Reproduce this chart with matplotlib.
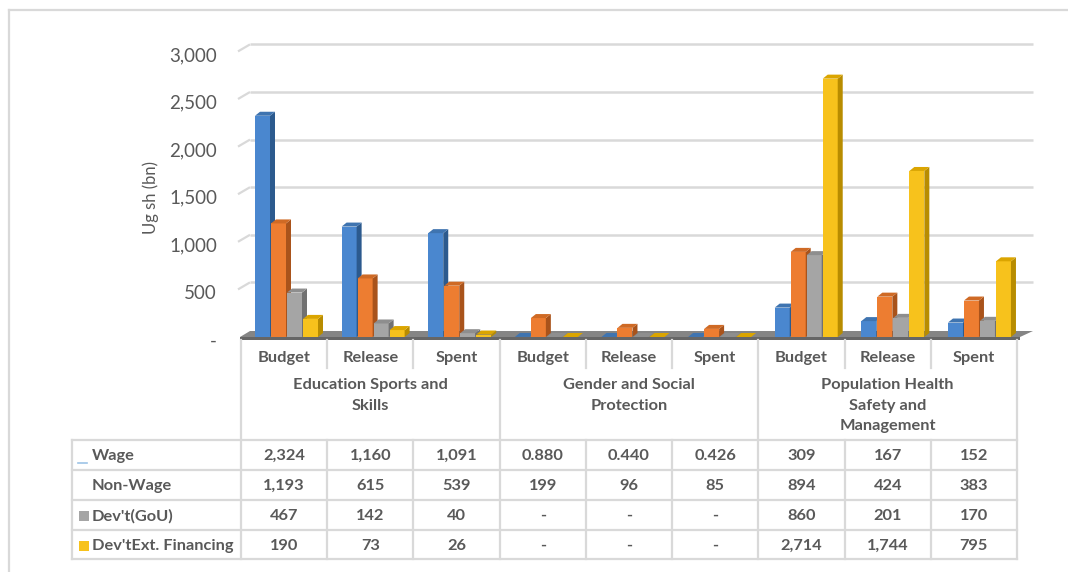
import numpy as np
import matplotlib
matplotlib.use("Agg")
import matplotlib.pyplot as plt
import matplotlib.transforms as mtransforms
from matplotlib.patches import Polygon, Rectangle

# ---- data ---------------------------------------------------------------
groups = ["Education Sports and\nSkills",
          "Gender and Social\nProtection",
          "Population Health\nSafety and\nManagement"]
stages = ["Budget", "Release", "Spent"]
series_names = ["Wage", "Non-Wage", "Dev't(GoU)", "Dev'tExt. Financing"]

wage = [2324, 1160, 1091, 0.880, 0.440, 0.426, 309, 167, 152]
non_wage = [1193, 615, 539, 199, 96, 85, 894, 424, 383]
dev_gou = [467, 142, 40, 0, 0, 0, 860, 201, 170]
dev_ext = [190, 73, 26, 0, 0, 0, 2714, 1744, 795]

y_ticks = [0, 500, 1000, 1500, 2000, 2500, 3000]

# ---- styling ------------------------------------------------------------
front_cols = ["#4a87cf", "#ed7d31", "#a5a5a5", "#f7c21c"]
side_cols = ["#2c5a8e", "#a9531b", "#717171", "#b88c00"]
top_cols = ["#3f74b0", "#cf6a25", "#8e8e8e", "#dba500"]
grid_col = "#d9d9d9"
text_col = "#595959"
FONT = "Lato"

W, H = 1068, 572
fig = plt.figure(figsize=(W / 100, H / 100), dpi=100)

x0_px, col_px = 241.0, 86.22      # left edge of the first column, column width
zero_px = 337.0                   # baseline of the front plane
sy = 0.0952                       # pixels per value unit
ax = fig.add_axes([x0_px / W, (H - zero_px) / H, 9 * col_px / W, 3000 * sy / H])
ax.set_xlim(0, 9)
ax.set_ylim(0, 3000)
ax.axis("off")

def dxp(px):
    return px / col_px

def dyp(px):
    return px / sy

def fy(ypx):
    return (H - ypx) / H

# ---- outer chart border -------------------------------------------------
fig.add_artist(plt.Line2D([9 / W, 9 / W], [fy(10), 0], color=grid_col, lw=1.6))
fig.add_artist(plt.Line2D([9 / W, 1], [fy(10), fy(10)], color=grid_col, lw=1.6))

# ---- back wall gridlines ------------------------------------------------
wall_dx, wall_dy = dxp(9), dyp(7)
for v in y_ticks[1:]:
    ax.plot([dxp(-3), wall_dx], [v, v + wall_dy], color=grid_col, lw=1.6,
            zorder=0.5, clip_on=False, solid_capstyle="butt")
    ax.plot([wall_dx, dxp(792)], [v + wall_dy, v + wall_dy], color=grid_col,
            lw=1.8, zorder=0.5, clip_on=False, solid_capstyle="butt")

# ---- y tick labels ------------------------------------------------------
lab_off = mtransforms.ScaledTranslation(0, -4 / 100, fig.dpi_scale_trans)
for v in y_ticks:
    ax.text(dxp(-24), v, "-" if v == 0 else f"{v:,}", ha="right", va="center",
            fontsize=13.5, color=text_col, family=FONT,
            transform=ax.transData + lab_off, clip_on=False)
fig.text(151 / W, fy(197), "Ug sh (bn)", rotation=90, ha="center", va="center",
         fontsize=12, color=text_col, family=FONT)

# ---- floor --------------------------------------------------------------
floor_top = Polygon([[dxp(-1), 0], [dxp(779), 0], [dxp(792), dyp(6)], [dxp(9), dyp(6)]],
                    closed=True, facecolor="#858585", edgecolor="none", zorder=1,
                    clip_on=False)
floor_front = Polygon([[dxp(-1), 0], [dxp(779), 0], [dxp(779), dyp(-3)], [dxp(-1), dyp(-3)]],
                      closed=True, facecolor="#666666", edgecolor="none", zorder=1,
                      clip_on=False)
ax.add_patch(floor_top)
ax.add_patch(floor_front)

# ---- 3-D columns --------------------------------------------------------
series = [wage, non_wage, dev_gou, dev_ext]
bw = dxp(15)
bar_dx, bar_dy = dxp(5), dyp(4)
z = 2.0
for k in range(9):
    for j, vals in enumerate(series):
        v = vals[k]
        x = k + dxp(14 + 0.4 * k) + j * dxp(16)
        ax.bar(x, v, width=bw, align="edge", color=front_cols[j], zorder=z,
               linewidth=0, clip_on=False)
        side = Polygon([[x + bw, 0], [x + bw + bar_dx, bar_dy],
                        [x + bw + bar_dx, v + bar_dy], [x + bw, v]],
                       closed=True, facecolor=side_cols[j], edgecolor="none",
                       zorder=z + 0.01, clip_on=False)
        top = Polygon([[x, v], [x + bw, v], [x + bw + bar_dx, v + bar_dy],
                       [x + bar_dx, v + bar_dy]],
                      closed=True, facecolor=top_cols[j], edgecolor="none",
                      zorder=z + 0.02, clip_on=False)
        ax.add_patch(side)
        ax.add_patch(top)
        z += 0.1

# ---- data table ---------------------------------------------------------
tr = mtransforms.blended_transform_factory(ax.transData, fig.transFigure)
left_x = dxp(72 - x0_px)
row_lines = [440, 470, 500, 530, 559]
row_mid = [456, 486, 516, 546]
TS = 11.8

def hline(x_a, x_b, ypx):
    fig.add_artist(plt.Line2D([x_a, x_b], [fy(ypx), fy(ypx)], color=grid_col,
                              lw=1.6, transform=tr))

def vline(x, ya, yb):
    fig.add_artist(plt.Line2D([x, x], [fy(ya), fy(yb)], color=grid_col,
                              lw=1.6, transform=tr))

for ypx in row_lines:
    hline(left_x, 9, ypx)
vline(left_x, 440, 559)
for k in range(10):
    if k % 3 == 0:
        vline(k, 340, 559)
    else:
        vline(k, 340, 368)
        vline(k, 440, 559)

def fmt(v):
    if v == 0:
        return "-"
    if v < 1:
        return f"{v:.3f}"
    return f"{v:,.0f}"

for k in range(9):
    fig.text(k + 0.5, fy(358), stages[k % 3], ha="center", va="center",
             fontsize=TS, fontweight="bold", color=text_col, family=FONT,
             transform=tr)
for g, name in enumerate(groups):
    fig.text(3 * g + 1.5, fy(378), name, ha="center", va="top", linespacing=1.6,
             fontsize=TS, fontweight="bold", color=text_col, family=FONT,
             transform=tr)

label_x = dxp(92 - x0_px)
for r, (name, vals) in enumerate(zip(series_names, series)):
    fig.text(label_x, fy(row_mid[r]), name, ha="left", va="center", fontsize=TS,
             fontweight="bold", color=text_col, family=FONT, transform=tr)
    for k in range(9):
        fig.text(k + 0.5, fy(row_mid[r]), fmt(vals[k]), ha="center", va="center",
                 fontsize=TS, fontweight="bold", color=text_col, family=FONT,
                 transform=tr)

# legend keys in the table rows
fig.add_artist(plt.Line2D([dxp(78 - x0_px), dxp(87 - x0_px)], [fy(463), fy(463)],
                          color="#9dc3e6", lw=1.2, transform=tr))
for r, j in ((2, 2), (3, 3)):
    fig.add_artist(Rectangle((dxp(79 - x0_px), fy(row_mid[r] + 5)), dxp(10), 10 / H,
                             facecolor=front_cols[j], edgecolor="none", transform=tr))

fig.savefig("out.png", dpi=100, facecolor="white")
